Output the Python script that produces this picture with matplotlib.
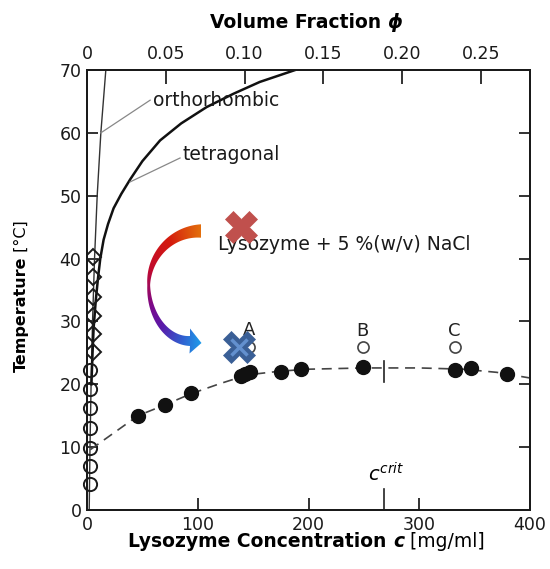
import matplotlib
matplotlib.use("Agg")
import matplotlib.pyplot as plt
import numpy as np
from matplotlib.colors import LinearSegmentedColormap
from matplotlib.patches import Polygon

plt.rcParams['font.family'] = 'DejaVu Sans'
plt.rcParams['mathtext.fontset'] = 'dejavusans'

# liquid-liquid coexistence points (filled circles)
lls_conc = [46, 70, 94, 139, 143, 147, 175, 193, 249, 332, 347, 379]
lls_temp = [15.0, 16.7, 18.6, 21.3, 21.7, 21.9, 22.0, 22.4, 22.7, 22.3, 22.6, 21.6]
# dashed guide through the coexistence points
fit_conc = [3, 46, 70, 94, 120, 145, 175, 200, 250, 300, 340, 370, 400]
fit_temp = [9.6, 15.0, 16.7, 18.5, 20.1, 21.5, 22.1, 22.4, 22.6, 22.6, 22.4, 21.9, 21.0]
# solubility data close to c = 0
sol_circ_conc = [2.7, 2.7, 2.7, 2.7, 2.7, 2.7, 2.7]
sol_circ_temp = [4.2, 7.0, 9.9, 13.0, 16.2, 19.3, 22.3]
sol_diam_conc = [5.5, 5.5, 5.5, 5.5, 5.5, 5.5]
sol_diam_temp = [25.2, 28.0, 30.8, 33.9, 37.0, 40.2]
# solubility lines
ortho_conc = [2.0, 2.7, 3.7, 5.0, 6.8, 9.2, 12.5, 17.0]
ortho_temp = [0, 10, 20, 30, 40, 50, 60, 70]
tetra_conc = [4, 5, 6, 8, 10, 12, 15, 19, 24, 31, 39, 50, 66, 85, 108, 132, 156, 188]
tetra_temp = [20, 25, 29, 33.5, 37, 40, 43, 45.5, 48, 50.3, 52.6, 55.5, 58.8, 61.5,
              64.1, 66.2, 68.1, 70]
# samples A, B, C
sample_labels = ['A', 'B', 'C']
sample_conc = [146, 249, 332]
sample_temp = [26.0, 25.9, 25.9]
c_crit = 268
# quench: start and end state
start_conc, start_temp = 139.5, 45.1
end_conc, end_temp = 137, 26.0

phi_per_conc = 0.000703
phi_ticks = [0, 0.05, 0.10, 0.15, 0.20, 0.25]
phi_labels = ['0', '0.05', '0.10', '0.15', '0.20', '0.25']

W, H = 550, 569
fig = plt.figure(figsize=(W / 100, H / 100), dpi=100)
ax = fig.add_axes([87 / W, 1 - 510 / H, 443 / W, 440 / H])
ax.set_xlim(0, 400)
ax.set_ylim(0, 70)
ax.set_xticks([0, 100, 200, 300, 400])
ax.set_yticks(range(0, 71, 10))
ax.tick_params(direction='in', labelsize=12.5, width=1.3, color='#222222',
               labelcolor='#1a1a1a')
ax.tick_params(axis='x', length=9, pad=4, top=False)
ax.tick_params(axis='y', length=8, pad=4, right=True)
for s in ax.spines.values():
    s.set_linewidth(1.4)
    s.set_color('#1a1a1a')

top = ax.twiny()
top.set_xlim(0, 400 * phi_per_conc)
top.set_xticks(phi_ticks, phi_labels)
top.tick_params(direction='in', length=10, width=1.3, labelsize=12.5, pad=5,
                color='#222222', labelcolor='#1a1a1a')
for s in top.spines.values():
    s.set_linewidth(1.4)
    s.set_color('#1a1a1a')

# solubility lines
ax.plot(ortho_conc, ortho_temp, color='#333333', lw=1.0)
ax.plot(tetra_conc, tetra_temp, color='#111111', lw=1.8)
ax.plot(sol_circ_conc, sol_circ_temp, 'o', ms=9.5, mfc='none', mec='#1a1a1a', mew=1.4,
        clip_on=False)
ax.plot(sol_diam_conc, sol_diam_temp, 'D', ms=8, mfc='none', mec='#1a1a1a', mew=1.4)

# coexistence curve
ax.plot(fit_conc, fit_temp, color='#444444', lw=1.2, dashes=(6, 4))
ax.plot(lls_conc, lls_temp, 'o', ms=10, color='#111111')
ax.plot([c_crit, c_crit], [20.3, 23.7], color='#222222', lw=1.2)
ax.plot([c_crit, c_crit], [0, 3.3], color='#222222', lw=1.2)
ax.text(c_crit + 2, 3.9, r'$c^{crit}$', fontsize=14, ha='center', va='bottom')

# samples
ax.plot(sample_conc, sample_temp, 'o', ms=8, mfc='white', mec='#444444', mew=1.2)
for lab, c, t in zip(sample_labels, sample_conc, sample_temp):
    ax.text(c, t + 1.2, lab, fontsize=13, ha='center', va='bottom', color='#222222')

# annotations of the solubility lines
ax.plot([12.5, 57], [60, 65.2], color='#888888', lw=0.9)
ax.plot([39, 84], [52.2, 56], color='#888888', lw=0.9)
ax.text(59.5, 65.1, 'orthorhombic', fontsize=13.5, va='center', ha='left', color='#1a1a1a')
ax.text(86.5, 56.5, 'tetragonal', fontsize=13.5, va='center', ha='left', color='#1a1a1a')
ax.text(118, 42.2, 'Lysozyme + 5 %(w/v) NaCl', fontsize=13.5, va='center', ha='left',
        color='#1a1a1a')

# quench markers
ax.plot(start_conc, start_temp, 'X', ms=23, color='#C0504D', mec='#C0504D', mew=0.5, zorder=5)
ax.plot(end_conc, end_temp, 'X', ms=23, color='#3A5F96', mec='#3A5F96', mew=0.5, zorder=5)
ax.plot(end_conc, end_temp, 'x', ms=11, color='#6390CE', mew=2.5, zorder=6)

# overlay in pixel coordinates for the labels and the curved arrow
ov = fig.add_axes([0, 0, 1, 1])
ov.axis('off')

th = np.linspace(90, 270, 120)
r = np.radians(th)
cx = np.where(th <= 180, 201.0, 190.0)
a = np.where(th <= 180, 52.3, 41.3)
b = np.where(th <= 180, 54.0, 56.0)
cy = 285.0
w = np.interp(th, [90, 135, 180, 225, 270], [13.4, 8.0, 2.8, 6.5, 10.0])
xo = cx + (a + w / 2) * np.cos(r)
yo = cy - (b + w / 2) * np.sin(r)
xi = cx + (a - w / 2) * np.cos(r)
yi = cy - (b - w / 2) * np.sin(r)
head = [(190, 346), (189.5, 353.5), (201.5, 343), (190, 328.5), (190, 336)]
verts = list(zip(xo, yo)) + head + list(zip(xi[::-1], yi[::-1]))
arrow = Polygon(verts, closed=True, facecolor='none', edgecolor='none')
ov.add_patch(arrow)

gx, gy = np.meshgrid(np.linspace(140, 210, 140), np.linspace(215, 360, 290))
ang = np.degrees(np.arctan2(-(gy - 287), gx - 196)) % 360
tgrad = np.clip((ang - 80) / 200, 0, 1)
cmap = LinearSegmentedColormap.from_list('quench', [
    (0.0, '#E57A0C'), (0.2, '#D41A0E'), (0.4, '#C00A30'), (0.5, '#A00A5A'),
    (0.62, '#7A0A8C'), (0.75, '#5A1AAA'), (0.88, '#3060D0'), (1.0, '#1AA8F0')])
im = ov.imshow(tgrad, cmap=cmap, vmin=0, vmax=1, extent=[140, 210, 360, 215],
               origin='upper', aspect='auto', interpolation='bilinear')
im.set_clip_path(arrow)
ov.set_xlim(0, W)
ov.set_ylim(H, 0)

# axis titles
t1 = ov.text(128, 547, 'Lysozyme Concentration ', fontsize=13.5, fontweight='bold',
             va='baseline', ha='left')
t2 = ov.annotate('c', xy=(1, 0), xycoords=t1, fontsize=13.5, fontweight='bold',
                 fontstyle='italic', va='bottom', ha='left')
ov.annotate(' [mg/ml]', xy=(1, 0), xycoords=t2, fontsize=13.5, va='bottom', ha='left')

t3 = ov.text(210, 28, 'Volume Fraction ', fontsize=13.5, fontweight='bold',
             va='baseline', ha='left')
ov.annotate('ϕ', xy=(1, 0), xycoords=t3, fontsize=13.5, fontweight='bold',
            fontstyle='italic', va='bottom', ha='left')

t4 = ov.text(21, 372, 'Temperature', fontsize=11.5, fontweight='bold', rotation=90,
             rotation_mode='anchor', ha='left', va='center')
ov.annotate(' [°C]', xy=(0.5, 1), xycoords=t4, fontsize=11.5, rotation=90,
            rotation_mode='anchor', ha='left', va='center')

fig.savefig('out.png', dpi=100)
